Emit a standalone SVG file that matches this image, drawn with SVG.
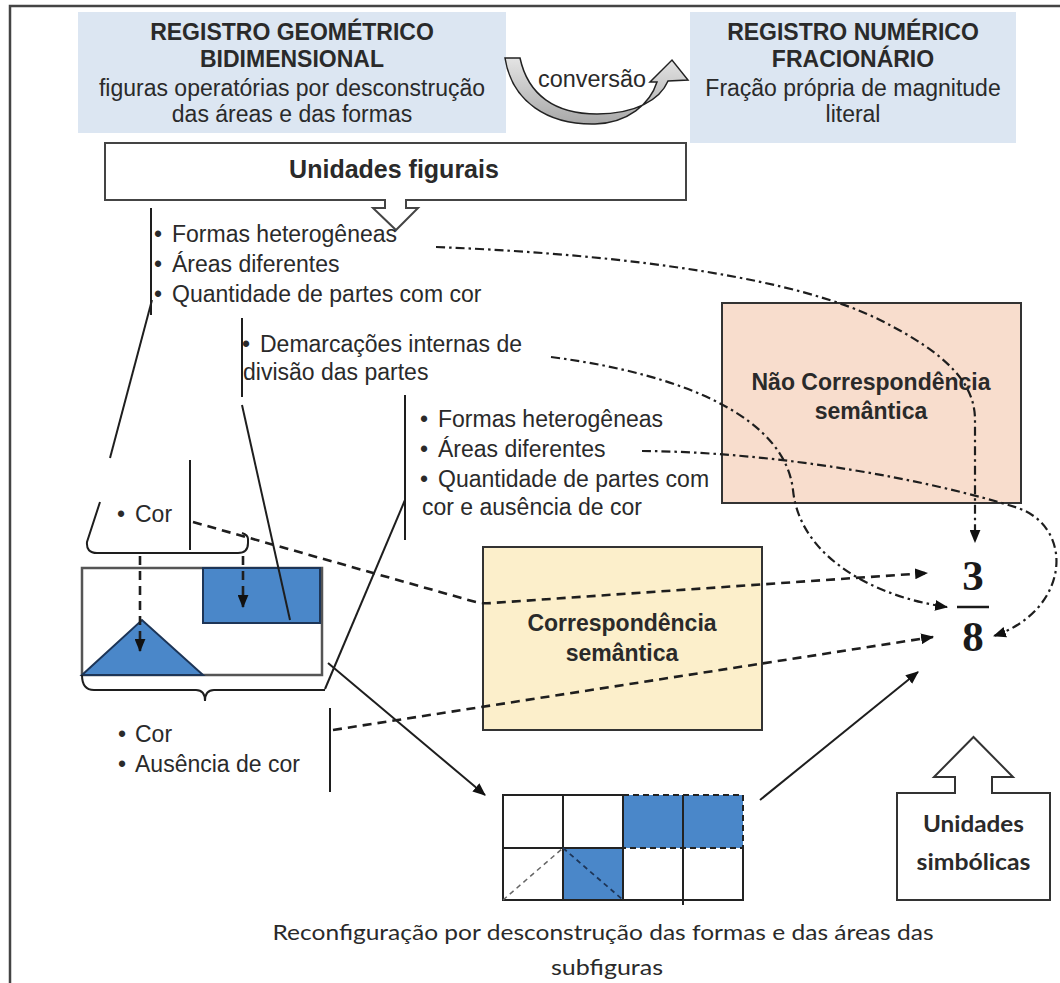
<svg xmlns="http://www.w3.org/2000/svg" width="1060" height="983" viewBox="0 0 1060 983">
  <defs>
    <style>
      .t { font-family: "Liberation Sans", Arial, sans-serif; font-size: 23px; fill: #2a2a2a; }
      .b { font-weight: bold; }
      .c { font-family: Lato, "Liberation Sans", sans-serif; font-size: 22px; fill: #2a2a2a; }
      .m { text-anchor: middle; }
      .ln { fill: none; stroke: #1e1e1e; stroke-width: 2; }
      .dash { fill: none; stroke: #1e1e1e; stroke-width: 2.6; stroke-dasharray: 9 6; }
      .dd { fill: none; stroke: #1e1e1e; stroke-width: 2.2; stroke-dasharray: 9 4 2.5 4; }
      .hdr { fill: #dce6f2; }
      .blue { fill: #4a87c9; stroke: #1d3557; stroke-width: 2; }
      .grid { fill: none; stroke: #222; stroke-width: 2; }
      .gdash { fill: none; stroke: #222; stroke-width: 2; stroke-dasharray: 6 4; }
    </style>
    <marker id="ah" viewBox="0 0 12 10" refX="11" refY="5" markerWidth="13" markerHeight="11" markerUnits="userSpaceOnUse" orient="auto">
      <path d="M0,0 L12,5 L0,10 Z" fill="#111"/>
    </marker>
    <linearGradient id="gray" x1="0" y1="0" x2="0" y2="1">
      <stop offset="0" stop-color="#e4e4e4"/>
      <stop offset="1" stop-color="#a8a8a8"/>
    </linearGradient>
  </defs>

  <rect width="1060" height="983" fill="#fff"/>
  <!-- page frame -->
  <path d="M10,983 V6 H1060" fill="none" stroke="#444" stroke-width="2.5"/>

  <!-- geometric register header -->
  <g id="registro-geometrico">
    <rect class="hdr" x="78" y="12" width="428" height="121"/>
    <text class="t b m" x="292" y="40">REGISTRO GEOMÉTRICO</text>
    <text class="t b m" x="292" y="67">BIDIMENSIONAL</text>
    <text class="t m" x="292" y="96">figuras operatórias por desconstrução</text>
    <text class="t m" x="292" y="122">das áreas e das formas</text>
  </g>

  <!-- numeric register header -->
  <g id="registro-numerico">
    <rect class="hdr" x="690" y="12" width="326" height="131"/>
    <text class="t b m" x="853" y="40">REGISTRO NUMÉRICO</text>
    <text class="t b m" x="853" y="67">FRACIONÁRIO</text>
    <text class="t m" x="853" y="96">Fração própria de magnitude</text>
    <text class="t m" x="853" y="122">literal</text>
  </g>

  <!-- curved conversion arrow -->
  <g id="conversao">
    <path d="M505,58 C512,102 548,125 595,124 C628,123 650,104 657,82 L650,82 L672,60 L688,80 L668,81 C660,100 635,114 597,114 C555,114 528,95 520,58 Z" fill="url(#gray)" stroke="#222" stroke-width="1.5"/>
    <text class="t" x="538" y="87" textLength="108" lengthAdjust="spacingAndGlyphs">conversão</text>
  </g>

  <!-- figural units callout -->
  <g id="unidades-figurais">
    <path d="M105,143 H686 V200 H406 V208 H418 L396,230 L373,208 H385 V200 H105 Z" fill="#fff" stroke="#444" stroke-width="2"/>
    <text class="t b m" x="394" y="178" style="font-size:25px">Unidades figurais</text>
  </g>

  <!-- first list: shape, area, coloured parts -->
  <g id="lista-1">
    <text class="t" y="242"><tspan x="154">•</tspan><tspan x="172">Formas heterogêneas</tspan></text>
    <text class="t" y="272"><tspan x="154">•</tspan><tspan x="172">Áreas diferentes</tspan></text>
    <text class="t" y="302"><tspan x="154">•</tspan><tspan x="172">Quantidade de partes com cor</tspan></text>
  </g>

  <!-- second list: internal divisions -->
  <g id="lista-2">
    <text class="t" y="352"><tspan x="242">•</tspan><tspan x="260">Demarcações internas de</tspan></text>
    <text class="t" x="243" y="380">divisão das partes</text>
  </g>

  <!-- third list -->
  <g id="lista-3">
    <text class="t" y="427"><tspan x="420">•</tspan><tspan x="438">Formas heterogêneas</tspan></text>
    <text class="t" y="457"><tspan x="420">•</tspan><tspan x="438">Áreas diferentes</tspan></text>
    <text class="t" y="487"><tspan x="420">•</tspan><tspan x="438">Quantidade de partes com</tspan></text>
    <text class="t" x="422" y="515">cor e ausência de cor</text>
  </g>

  <!-- colour label -->
  <g id="cor">
    <text class="t" y="522"><tspan x="117">•</tspan><tspan x="135">Cor</tspan></text>
  </g>

  <!-- colour / absence of colour label -->
  <g id="cor-ausencia">
    <text class="t" y="742"><tspan x="118">•</tspan><tspan x="135">Cor</tspan></text>
    <text class="t" y="772"><tspan x="118">•</tspan><tspan x="135">Ausência de cor</tspan></text>
  </g>

  <!-- original figure: rectangle with coloured subfigures -->
  <g id="figura">
    <rect x="82" y="568" width="240" height="107" fill="#fff" stroke="#555" stroke-width="2.5"/>
    <rect class="blue" x="203" y="568" width="117" height="55"/>
    <polygon class="blue" points="82,675 142,620 203,675"/>
  </g>

  <!-- reconfigured grid -->
  <g id="grade">
    <rect x="623" y="795" width="120" height="53" fill="#4a87c9"/>
    <rect x="563" y="848" width="60" height="52" fill="#4a87c9"/>
    <path class="grid" d="M623,795 H503 V900 H743 V848 M503,848 H623 M563,795 V900 M623,795 V900 M683,795 V905"/>
    <path class="gdash" d="M623,795 H743 V848 H623"/>
    <path d="M503,900 L563,848" fill="none" stroke="#666" stroke-width="1.5" stroke-dasharray="5 4"/>
    <path d="M563,848 L623,900" fill="none" stroke="#1d3557" stroke-width="1.8" stroke-dasharray="5 4"/>
  </g>

  <g id="reconfiguracao">
    <text class="c m" x="603" y="940" textLength="661" lengthAdjust="spacingAndGlyphs">Reconfiguração por desconstrução das formas e das áreas das</text>
    <text class="c m" x="607" y="975" textLength="112" lengthAdjust="spacingAndGlyphs">subfiguras</text>
  </g>

  <!-- semantic correspondence -->
  <g id="correspondencia">
    <rect x="483" y="547" width="279" height="183" fill="#fcefcb" stroke="#333" stroke-width="2"/>
    <text class="t b m" x="622" y="631">Correspondência</text>
    <text class="t b m" x="622" y="661">semântica</text>
  </g>

  <!-- semantic non-correspondence -->
  <g id="nao-correspondencia">
    <rect x="722" y="303" width="299" height="200" fill="#f8ddcd" stroke="#333" stroke-width="2"/>
    <text class="t b m" x="871" y="390">Não Correspondência</text>
    <text class="t b m" x="871" y="419">semântica</text>
  </g>

  <!-- symbolic units callout -->
  <g id="unidades-simbolicas">
    <path d="M897,793 H955 V777 H934 L973.5,737 L1013,777 H992 V793 H1050 V900 H897 Z" fill="#fff" stroke="#333" stroke-width="2"/>
    <text class="c b m" x="973.5" y="832" textLength="101" lengthAdjust="spacingAndGlyphs">Unidades</text>
    <text class="c b m" x="973.5" y="870" textLength="114" lengthAdjust="spacingAndGlyphs">simbólicas</text>
  </g>

  <!-- fraction 3/8 -->
  <g id="fracao">
    <text x="973" y="590" text-anchor="middle" style="font-family:'Liberation Serif',serif;font-size:43px;font-weight:bold;fill:#1a1a1a">3</text>
    <line x1="957" y1="607" x2="989" y2="607" stroke="#1a1a1a" stroke-width="2.5"/>
    <text x="973" y="651" text-anchor="middle" style="font-family:'Liberation Serif',serif;font-size:43px;font-weight:bold;fill:#1a1a1a">8</text>
  </g>

  <!-- connectors -->
  <g id="conectores">
    <!-- brackets and leader lines -->
    <path class="ln" d="M151,208 V315"/>
    <path class="ln" d="M152,300 L110,458"/>
    <path class="ln" d="M100,502 L87,542 Q86,553 97,553 H238 Q248,553 248,543 V539 Q248,535 242,533"/>
    <path class="ln" d="M190,460 V550"/>
    <path class="ln" d="M242,318 V397"/>
    <path class="ln" d="M242,405 L290,620"/>
    <path class="ln" d="M405,395 V540"/>
    <path class="ln" d="M405,500 L325,689"/>
    <path class="ln" d="M82,675 Q82,690 94,690 H196 Q205,690 205,701 Q205,690 214,690 H325"/>
    <path class="ln" d="M330,708 V792"/>

    <!-- solid arrows -->
    <path class="ln" d="M328,663 L485,795" marker-end="url(#ah)"/>
    <path class="ln" d="M760,800 L918,672" marker-end="url(#ah)"/>

    <!-- dashed arrows: correspondence -->
    <path class="dash" d="M140,556 V651" marker-end="url(#ah)"/>
    <path class="dash" d="M243,556 V607" marker-end="url(#ah)"/>
    <path class="dash" d="M193,522 L472,601 Q482,604 492,603 L927,573" marker-end="url(#ah)"/>
    <path class="dash" d="M333,730 L933,637" marker-end="url(#ah)"/>

    <!-- dash-dot arrows: non-correspondence -->
    <path class="dd" d="M436,247 C640,255 800,280 880,320 C950,355 975,385 975,420 V542" marker-end="url(#ah)"/>
    <path class="dd" d="M551,357 C690,375 785,420 793,490 C800,560 880,598 947,607" marker-end="url(#ah)"/>
    <path class="dd" d="M642,451 C780,452 930,480 1018,508 C1075,528 1070,610 994,636" marker-end="url(#ah)"/>
  </g>
</svg>
